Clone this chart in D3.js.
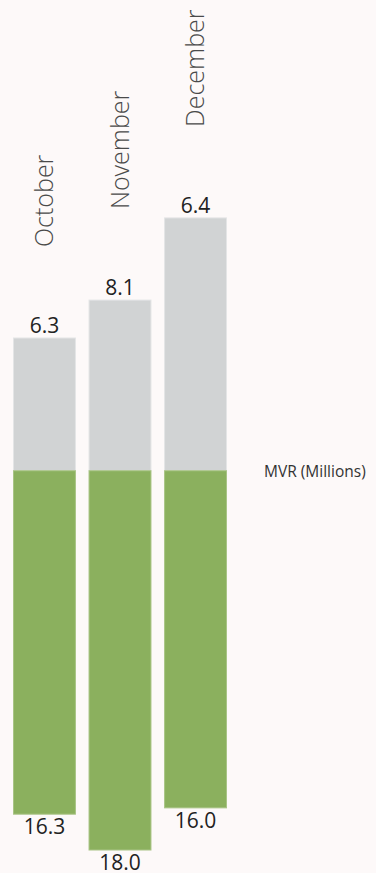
<!DOCTYPE html>
<meta charset="utf-8">
<script src="https://d3js.org/d3.v7.min.js"></script>
<style>
  body { margin: 0; background: #fdf9f9; }
  svg text { font-family: "Open Sans", "Noto Sans", sans-serif; }
</style>
<div id="screen"></div>
<script>
  // data
  var months = ["October", "November", "December"];
  var mvr = [16.3, 18.0, 16.0];          // green, drawn downward
  var upper = [6.3, 8.1, 12.0];          // gray, drawn upward (bar height as drawn)
  var upperLabels = ["6.3", "8.1", "6.4"];
  var mvrLabels = ["16.3", "18.0", "16.0"];
  var seriesName = "MVR (Millions)";

  var width = 376, height = 873;

  var svg = d3.select("#screen")
      .append("svg")
      .attr("width", width)
      .attr("height", height);

  var x = d3.scaleBand()
      .domain(months)
      .range([13.5, 226.5])
      .paddingInner(0.18)
      .paddingOuter(0);

  var y = d3.scaleLinear()
      .domain([-18, 12])
      .range([850, 217.9]);

  var rows = months.map(function(m, i) {
    return { m: m, down: mvr[i], up: upper[i], upLab: upperLabels[i], downLab: mvrLabels[i] };
  });

  var g = svg.selectAll("g.bar")
      .data(rows)
      .enter().append("g")
      .attr("class", "bar");

  // gray part
  g.append("rect")
      .attr("x", d => x(d.m))
      .attr("width", x.bandwidth())
      .attr("y", d => y(d.up))
      .attr("height", d => y(0) - y(d.up))
      .style("fill", "#d1d3d4")
      .style("stroke", "#e4e5e6")
      .style("stroke-width", 1);

  // green part
  g.append("rect")
      .attr("x", d => x(d.m))
      .attr("width", x.bandwidth())
      .attr("y", y(0))
      .attr("height", d => y(-d.down) - y(0))
      .style("fill", "#8bb05e")
      .style("stroke", "#a9c486")
      .style("stroke-width", 1);

  // value labels
  g.append("text")
      .attr("x", d => x(d.m) + x.bandwidth() / 2)
      .attr("y", d => y(d.up) - 5)
      .attr("text-anchor", "middle")
      .style("font-size", "21px")
      .style("fill", "#222")
      .text(d => d.upLab);

  g.append("text")
      .attr("x", d => x(d.m) + x.bandwidth() / 2)
      .attr("y", d => y(-d.down) + 20)
      .attr("text-anchor", "middle")
      .style("font-size", "21px")
      .style("fill", "#222")
      .text(d => d.downLab);

  // month labels, rotated
  g.append("text")
      .attr("transform", d => "translate(" + (x(d.m) + x.bandwidth() / 2 + 8.5) + "," + (y(d.up) - 91) + ") rotate(-90)")
      .attr("text-anchor", "start")
      .style("font-size", "25px")
      .style("font-weight", 300)
      .style("fill", "#4a4a4a")
      .text(d => d.m);

  svg.append("text")
      .attr("x", 264)
      .attr("y", y(0) + 6)
      .style("font-size", "15.5px")
      .style("fill", "#333")
      .text(seriesName);
</script>
